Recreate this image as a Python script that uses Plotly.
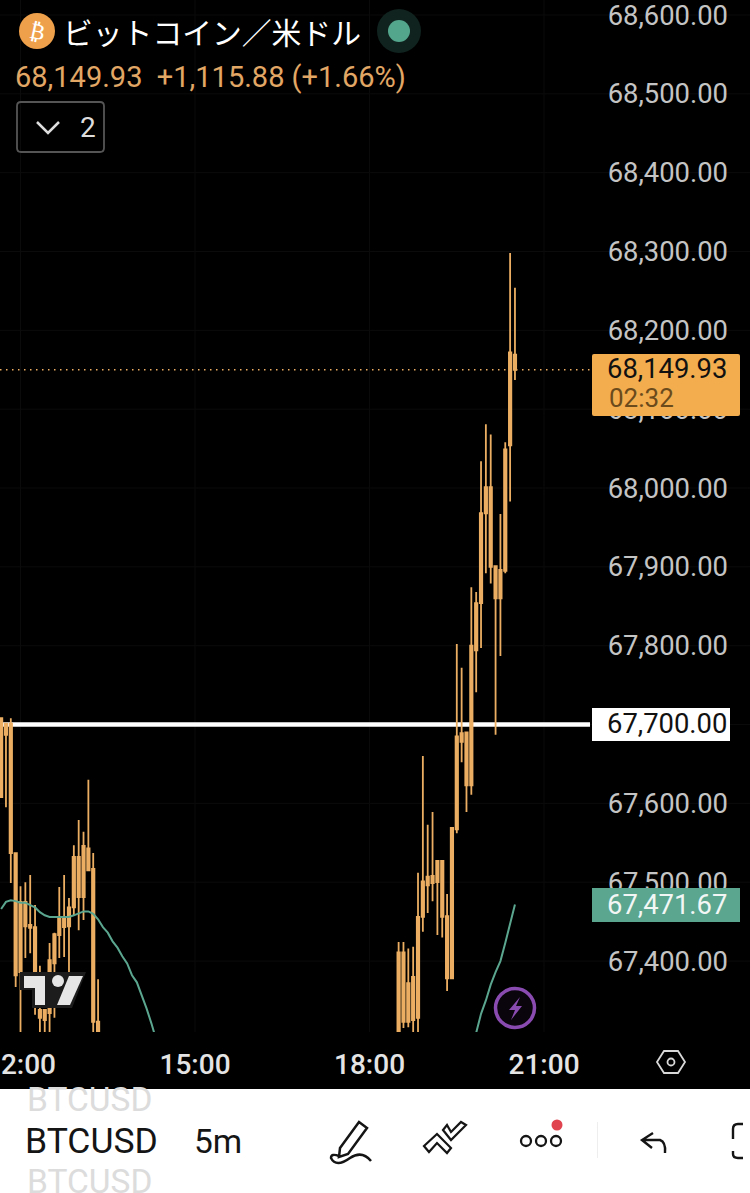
import pandas as pd
import plotly.graph_objects as go

### DATA
left_times = pd.date_range("2024-03-11 11:40", periods=21, freq="5min")
left_open = [67608, 67701, 67701, 67537, 67386, 67475, 67446, 67443, 67338, 67325, 67334,
             67397, 67433, 67455, 67444, 67468, 67532, 67481, 67543, 67517, 67323]
left_high = [67708, 67701, 67708, 67537, 67495, 67500, 67509, 67471, 67394, 67338, 67423,
             67436, 67494, 67509, 67480, 67547, 67579, 67564, 67630, 67537, 67377]
left_low = [67608, 67595, 67499, 67367, 67305, 67404, 67410, 67332, 67305, 67305, 67305,
            67328, 67404, 67405, 67386, 67458, 67439, 67452, 67515, 67305, 67295]
left_close = [67708, 67687, 67537, 67382, 67475, 67444, 67442, 67386, 67328, 67338, 67401,
              67434, 67456, 67443, 67468, 67532, 67481, 67546, 67515, 67323, 67300]

right_times = pd.date_range("2024-03-11 18:30", periods=25, freq="5min")
right_open = [67300, 67411, 67323, 67325, 67328, 67456, 67496, 67508, 67500, 67527, 67457, 67378,
              67567, 67678, 67690, 67623, 67794, 67854, 67968, 68001, 67901, 67860, 67895, 68054, 68169]
right_high = [67424, 67424, 67416, 67418, 67512, 67660, 67573, 67589, 67527, 67527, 67485, 67570,
              67802, 67772, 67690, 67874, 67868, 68034, 68081, 68068, 67901, 67967, 68058, 68298, 68254]
right_low = [67290, 67315, 67316, 67305, 67305, 67437, 67461, 67476, 67433, 67430, 67362, 67378,
             67562, 67652, 67589, 67611, 67741, 67797, 67892, 67879, 67687, 67787, 67892, 67983, 68137]
right_close = [67411, 67323, 67372, 67380, 67456, 67501, 67507, 67499, 67527, 67456, 67378, 67569,
               67685, 67689, 67623, 67800, 67854, 67968, 68001, 67900, 67860, 67896, 68049, 68172, 68149.93]

ma_left_times = pd.date_range("2024-03-11 11:40", periods=33, freq="5min")
ma_left = [67466, 67475, 67477, 67476, 67474, 67474, 67471, 67468, 67462, 67458, 67456,
           67456, 67456, 67456, 67456, 67458, 67461, 67463, 67463, 67460, 67453, 67443,
           67436, 67425, 67417, 67406, 67397, 67382, 67373, 67357, 67340, 67321, 67300]
ma_right_times = pd.date_range("2024-03-11 19:50", periods=9, freq="5min")
ma_right = [67309, 67333, 67350, 67370, 67386, 67400, 67423, 67448, 67471.67]

price_ticks = [67400, 67500, 67600, 67700, 67800, 67900, 68000, 68100, 68200, 68300, 68400, 68500, 68600]
time_ticks = ["2024-03-11 12:00", "2024-03-11 15:00", "2024-03-11 18:00", "2024-03-11 21:00"]
time_labels = ["12:00", "15:00", "18:00", "21:00"]
last_price = 68149.93
level_price = 67700
ma_last = 67471.67

ORANGE = "#EBAE62"
GREEN = "#5BA68F"
GRID = "#0b0b0b"
FONT = "Roboto, Liberation Sans, sans-serif"
JP = "Noto Sans CJK JP"

### HELPERS - page pixels to paper coords
def sx(x):
    return x / 750

def sy(y):
    return 1 - y / 1193

def pth(s):
    out, is_x = [], True
    for tok in s.split():
        if tok.isalpha():
            out.append(tok)
        else:
            out.append(str(sx(float(tok)) if is_x else sy(float(tok))))
            is_x = not is_x
    return " ".join(out)

shapes, notes = [], []

def rect(x0, y0, x1, y1, fill, line=None, width=0, opacity=1):
    shapes.append(dict(type="rect", xref="paper", yref="paper", x0=sx(x0), x1=sx(x1), y0=sy(y0), y1=sy(y1),
                       fillcolor=fill, opacity=opacity, line=dict(color=line or fill, width=width)))

def circle(cx, cy, r, fill, line=None, width=0):
    shapes.append(dict(type="circle", xref="paper", yref="paper", x0=sx(cx - r), x1=sx(cx + r), y0=sy(cy - r),
                       y1=sy(cy + r), fillcolor=fill, line=dict(color=line or fill, width=width)))

def stroke(s, color, width=2.5):
    shapes.append(dict(type="path", xref="paper", yref="paper", path=pth(s), line=dict(color=color, width=width)))

def solid(s, color):
    shapes.append(dict(type="path", xref="paper", yref="paper", path=pth(s), fillcolor=color,
                       line=dict(color=color, width=0)))

def text(x, y, s, size, color, anchor="left", family=FONT, **kw):
    notes.append(dict(xref="paper", yref="paper", x=sx(x), y=sy(y), text=s, showarrow=False, xanchor=anchor,
                      yanchor="middle", font=dict(size=size, color=color, family=family), **kw))

### FIGURE
fig = go.Figure()
for times, o, h, l, c in [(left_times, left_open, left_high, left_low, left_close),
                          (right_times, right_open, right_high, right_low, right_close)]:
    fig.add_trace(go.Candlestick(x=times, open=o, high=h, low=l, close=c, whiskerwidth=0,
                                 increasing=dict(line=dict(color=ORANGE, width=1.8), fillcolor=ORANGE),
                                 decreasing=dict(line=dict(color=ORANGE, width=1.8), fillcolor=ORANGE)))
fig.add_trace(go.Scatter(x=ma_left_times, y=ma_left, mode="lines", line=dict(color=GREEN, width=2)))
fig.add_trace(go.Scatter(x=ma_right_times, y=ma_right, mode="lines", line=dict(color=GREEN, width=2)))

# faint grid as shapes so the price line can cover it
for v in price_ticks:
    shapes.append(dict(type="line", xref="paper", yref="y", x0=0, x1=1, y0=v, y1=v, layer="below",
                       line=dict(color=GRID, width=1)))
for t in time_ticks:
    shapes.append(dict(type="line", xref="x", yref="paper", x0=t, x1=t, y0=sy(1032), y1=1, layer="below",
                       line=dict(color=GRID, width=1)))

# price lines sit under the candles
shapes.append(dict(type="line", xref="paper", yref="y", x0=0, x1=sx(590), y0=level_price, y1=level_price,
                   layer="below", line=dict(color="white", width=4.5)))
shapes.append(dict(type="line", xref="paper", yref="y", x0=0, x1=sx(590), y0=last_price, y1=last_price,
                   layer="below", line=dict(color=ORANGE, width=1.5, dash="1.5px,4.5px")))

# price tags
shapes.append(dict(type="path", xref="paper", yref="paper", fillcolor="#F3AD4E", line=dict(width=0),
                   path=pth("M 594 354 L 738 354 Q 740 354 740 356 L 740 414 Q 740 416 738 416 L 594 416 Q 592 416 592 414 L 592 356 Q 592 354 594 354 Z")))
text(729, 369, f"{last_price:,.2f}", 27.4, "#111111", "right")
text(607, 398, "02:32", 26, "#6b4a1c")
rect(592, 708, 730, 741, "white")
text(729, 724, f"{level_price:,.2f}", 27.4, "#111111", "right")
rect(592, 888, 740, 922, GREEN)
text(729, 905, f"{ma_last:,.2f}", 27.4, "#F2F7F5", "right")

# header
circle(37, 31, 18, "#EFA04A")
text(37, 31, "₿", 22, "white", "center", "DejaVu Sans", textangle=12)
text(61, 31, "ビットコイン／米ドル", 29.8, "white", family=JP)
circle(399, 31, 22, "#10231F")
circle(399, 31, 11, "#53A68C")
text(13, 77, f"{last_price:,.2f}  +1,115.88 (+1.66%)", 29, "#E2A765")
shapes.append(dict(type="path", xref="paper", yref="paper", line=dict(color="#555555", width=1.8),
                   path=pth("M 21 102 L 100 102 Q 104 102 104 106 L 104 148 Q 104 152 100 152 L 21 152 Q 17 152 17 148 L 17 106 Q 17 102 21 102 Z")))
stroke("M 37 122 L 48 133 L 59 122", "#dddddd", 2.5)
text(78, 127, "2", 28, "#dddddd", "left")

# tradingview logo
solid("M 20 972 L 86 972 L 72 1008 L 32 1008 L 32 990 L 20 990 Z", "#1c1c1c")
solid("M 24 976 L 45 976 L 45 1005 L 35 1005 L 35 988 L 24 988 Z", "#E6E6E6")
circle(58, 981, 6, "#E6E6E6")
solid("M 69 976 L 83 976 L 70 1005 L 57 1005 Z", "#E6E6E6")

# lightning button
circle(515, 1008, 19.5, "#0a050d", "#8A4BB0", 3.5)
solid("M 520 997 L 509 1010 L 515 1010 L 511 1020 L 522 1006 L 516 1006 Z", "#8A4BB0")

# settings hexagon
stroke("M 657 1062 L 664 1051 L 678 1051 L 685 1062 L 678 1073 L 664 1073 Z", "#d8d8d8", 1.8)
circle(671, 1062, 3.5, "black", "#d8d8d8", 1.8)

# bottom toolbar
rect(0, 1089, 750, 1193, "white")
text(25, 1099, "BTCUSD", 33.5, "#dcdcdc")
text(23, 1141, "BTCUSD", 35.5, "#151515")
text(25, 1181, "BTCUSD", 33.5, "#dcdcdc")
for i, x_fade in enumerate([132, 138, 144, 150, 156]):
    rect(x_fade, 1089, x_fade + 6, 1193, "white", opacity=0.15 + i * 0.18)
text(192, 1141, "5m", 33.5, "#151515")
stroke("M 340 1148 L 359 1122 L 367 1128 L 348 1154 L 339 1157 Z", "#151515", 2.5)
stroke("M 371 1161 Q 362 1150 350 1158 Q 336 1168 331 1158 Q 331 1153 339 1156", "#151515", 2.5)
stroke("M 424 1146 L 437 1134 L 451 1148 L 447 1153 L 437 1143 L 429 1152 Z", "#151515", 2.2)
stroke("M 443 1130 L 451 1140 L 466 1125 L 461 1122 L 451 1132 L 447 1125 Z", "#151515", 2.2)
for cx in [526, 541, 556]:
    circle(cx, 1141, 5, "white", "#151515", 2.3)
circle(557, 1125, 5.5, "#E0444E")
rect(597, 1122, 598, 1158, "#eeeeee")
stroke("M 653 1133 L 642 1140 L 652 1148 M 642 1140 L 660 1140 Q 666 1142 665 1153", "#151515", 2.4)
stroke("M 743 1124 L 738 1124 Q 733 1124 733 1129 L 733 1139 M 733 1151 L 733 1154 Q 733 1158 738 1158 L 743 1158", "#151515", 2.4)

fig.update_layout(
    width=750, height=1193, margin=dict(l=0, r=0, t=0, b=0, pad=0), showlegend=False,
    paper_bgcolor="black", plot_bgcolor="black", shapes=shapes, annotations=notes,
    xaxis=dict(domain=[0, 731 / 750], type="date", range=["2024-03-11 11:38:51", "2024-03-12 00:12:50"],
               automargin=False, rangeslider=dict(visible=False), tickmode="array", tickvals=time_ticks,
               ticktext=time_labels, ticks="outside", ticklen=7, tickcolor="black", ticklabeloverflow="allow",
               showgrid=False, showline=False, zeroline=False,
               tickfont=dict(family=FONT, size=28, color="#E4E4E4", weight=500)),
    yaxis=dict(domain=[161 / 1193, 1], range=[67310, 68619], side="right", ticklabelposition="inside",
               automargin=False, tickmode="array", tickvals=price_ticks, tickformat=",.2f", ticks="",
               ticklabeloverflow="allow", showgrid=False, showline=False, zeroline=False,
               tickfont=dict(family=FONT, size=27.4, color="#C4C4C4")),
)

fig.write_html("out.html", post_script="document.body.style.margin='0';", config=dict(displayModeBar=False))
